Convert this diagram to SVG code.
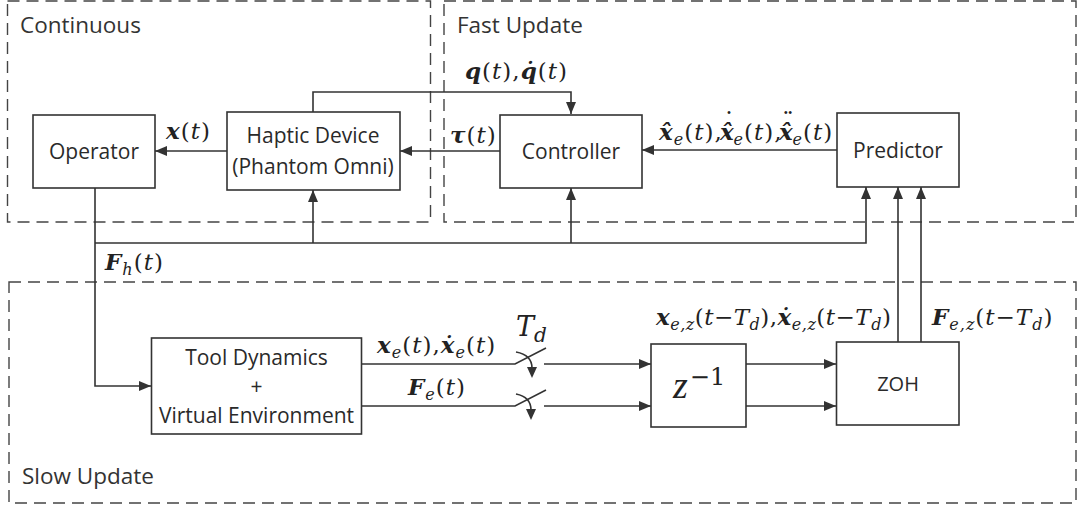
<svg xmlns="http://www.w3.org/2000/svg" width="1078" height="508" viewBox="0 0 1078 508">
  <style>
    .region { fill: none; stroke: #444; stroke-width: 1.4; stroke-dasharray: 12 7; }
    .rlabel { font-family: "Open Sans", "Liberation Sans", sans-serif; font-size: 22.5px; fill: #333; }
    .box { fill: #fff; stroke: #333; stroke-width: 1.6; }
    .t { font-family: "Open Sans", "Liberation Sans", sans-serif; font-size: 21px; fill: #2a2a2a; text-anchor: middle; }
    .wire { fill: none; stroke: #333; stroke-width: 1.6; }
    .arr { marker-end: url(#ah); }
    .m { font-family: "DejaVu Serif", "Liberation Serif", serif; font-size: 23px; font-style: italic; fill: #222; letter-spacing: 1px; }
    .b { font-weight: bold; }
    .u { font-style: normal; }
    .sb { font-size: 16px; }
    .acc { font-size: 20px; font-weight: bold; font-style: normal; letter-spacing: 0; }
  </style>
  <defs>
    <marker id="ah" markerWidth="12" markerHeight="10" refX="12" refY="5" orient="auto" markerUnits="userSpaceOnUse">
      <path d="M0,0 L12,5 L0,10 z" fill="#333"/>
    </marker>
  </defs>

  <!-- update-rate regions -->
  <g id="regions">
    <rect class="region" x="7.5" y="1" width="423" height="221"/>
    <rect class="region" x="444" y="1" width="632" height="221"/>
    <rect class="region" x="9" y="282" width="1067" height="221"/>
    <text class="rlabel" x="20" y="33">Continuous</text>
    <text class="rlabel" x="457" y="33">Fast Update</text>
    <text class="rlabel" x="22" y="484">Slow Update</text>
  </g>

  <!-- signal lines -->
  <g id="connectors">
    <path class="wire arr" d="M227 151 H155"/>
    <path class="wire arr" d="M500 151 H400"/>
    <path class="wire arr" d="M837 150 H642"/>
    <path class="wire arr" d="M313 112 V92 H571 V114"/>
    <path class="wire arr" d="M95 188 V386 H151"/>
    <path class="wire arr" d="M95 243 H866 V187"/>
    <path class="wire arr" d="M313 243 V190"/>
    <path class="wire arr" d="M571 243 V188"/>
    <path class="wire arr" d="M898 342 V187"/>
    <path class="wire arr" d="M921 342 V187"/>
    <!-- sampler switches -->
    <path class="wire" d="M362 364 H515 L546 348"/>
    <path class="wire" d="M362 406 H515 L546 390"/>
    <path class="wire" d="M516 352 Q532 355 532 368"/>
    <path class="wire" d="M516 394 Q531 397 531 410"/>
    <path d="M527 367 L537 367 L532 378 z" fill="#333"/>
    <path d="M526 409 L536 409 L531 420 z" fill="#333"/>
    <path class="wire arr" d="M544 364 H651"/>
    <path class="wire arr" d="M544 406 H651"/>
    <path class="wire arr" d="M746 364 H836"/>
    <path class="wire arr" d="M746 406 H836"/>
  </g>

  <g id="operator">
    <rect class="box" x="33" y="115" width="122" height="73"/>
    <text class="t" x="94" y="159">Operator</text>
  </g>
  <g id="haptic-device">
    <rect class="box" x="227" y="112" width="173" height="78"/>
    <text class="t" x="313" y="143">Haptic Device</text>
    <text class="t" x="313" y="174">(Phantom Omni)</text>
  </g>
  <g id="controller">
    <rect class="box" x="500" y="115" width="142" height="73"/>
    <text class="t" x="571" y="159">Controller</text>
  </g>
  <g id="predictor">
    <rect class="box" x="837" y="113" width="122" height="74"/>
    <text class="t" x="898" y="158">Predictor</text>
  </g>
  <g id="tool-dynamics">
    <rect class="box" x="151.5" y="338" width="210" height="96"/>
    <text class="t" x="256.5" y="365">Tool Dynamics</text>
    <text class="t" x="256.5" y="394">+</text>
    <text class="t" x="256.5" y="423">Virtual Environment</text>
  </g>
  <g id="delay">
    <rect class="box" x="651" y="344" width="95" height="83"/>
    <text x="673" y="398" style="font-family:'Liberation Serif',serif;font-style:italic;font-size:38px;fill:#222">z<tspan dx="2" dy="-13" style="font-family:'DejaVu Serif',serif;font-style:normal;font-size:24px">−1</tspan></text>
  </g>
  <g id="zoh">
    <rect class="box" x="836.5" y="342" width="122.5" height="83"/>
    <text class="t" x="898" y="391" style="font-size:20px">ZOH</text>
  </g>

  <!-- signal labels -->
  <g id="labels">
    <text class="m" x="166" y="139"><tspan class="b">x</tspan><tspan class="u">(</tspan>t<tspan class="u">)</tspan></text>
    <text class="m" x="465" y="79"><tspan class="b">q</tspan><tspan class="u">(</tspan>t<tspan class="u">),</tspan><tspan class="b">q̇</tspan><tspan class="u">(</tspan>t<tspan class="u">)</tspan></text>
    <text class="m" x="450" y="143"><tspan class="b">τ</tspan><tspan class="u">(</tspan>t<tspan class="u">)</tspan></text>
    <text class="m" x="659" y="140"><tspan class="b">x̂</tspan><tspan class="sb" dy="5">e</tspan><tspan class="u" dy="-5">(</tspan>t<tspan class="u">),</tspan><tspan class="b" x="720">x̂</tspan><tspan class="acc" x="724" y="127">˙</tspan><tspan class="sb" x="733.5" y="145">e</tspan><tspan class="u" y="140">(</tspan>t<tspan class="u">),</tspan><tspan class="b" x="779">x̂</tspan><tspan class="acc" x="783" y="127">¨</tspan><tspan class="sb" x="792.5" y="145">e</tspan><tspan class="u" y="140">(</tspan>t<tspan class="u">)</tspan></text>
    <text class="m" x="105" y="270"><tspan class="b">F</tspan><tspan class="sb" dy="5">h</tspan><tspan class="u" dy="-5">(</tspan>t<tspan class="u">)</tspan></text>
    <text class="m" x="377" y="353"><tspan class="b">x</tspan><tspan class="sb" dy="5">e</tspan><tspan class="u" dy="-5">(</tspan>t<tspan class="u">),</tspan><tspan class="b">ẋ</tspan><tspan class="sb" dy="5">e</tspan><tspan class="u" dy="-5">(</tspan>t<tspan class="u">)</tspan></text>
    <text class="m" x="408" y="395"><tspan class="b">F</tspan><tspan class="sb" dy="5">e</tspan><tspan class="u" dy="-5">(</tspan>t<tspan class="u">)</tspan></text>
    <text class="m" x="516" y="336" style="font-size:27px;letter-spacing:0">T<tspan dy="6" style="font-size:20px">d</tspan></text>
    <text class="m" x="656" y="325" style="letter-spacing:0.5px"><tspan class="b">x</tspan><tspan class="sb" dy="5">e,z</tspan><tspan class="u" dy="-5">(</tspan>t<tspan class="u">−</tspan>T<tspan class="sb" dy="5">d</tspan><tspan class="u" dy="-5">),</tspan><tspan class="b">ẋ</tspan><tspan class="sb" dy="5">e,z</tspan><tspan class="u" dy="-5">(</tspan>t<tspan class="u">−</tspan>T<tspan class="sb" dy="5">d</tspan><tspan class="u" dy="-5">)</tspan></text>
    <text class="m" x="932" y="325"><tspan class="b">F</tspan><tspan class="sb" dy="5">e,z</tspan><tspan class="u" dy="-5">(</tspan>t<tspan class="u">−</tspan>T<tspan class="sb" dy="5">d</tspan><tspan class="u" dy="-5">)</tspan></text>
  </g>
</svg>
